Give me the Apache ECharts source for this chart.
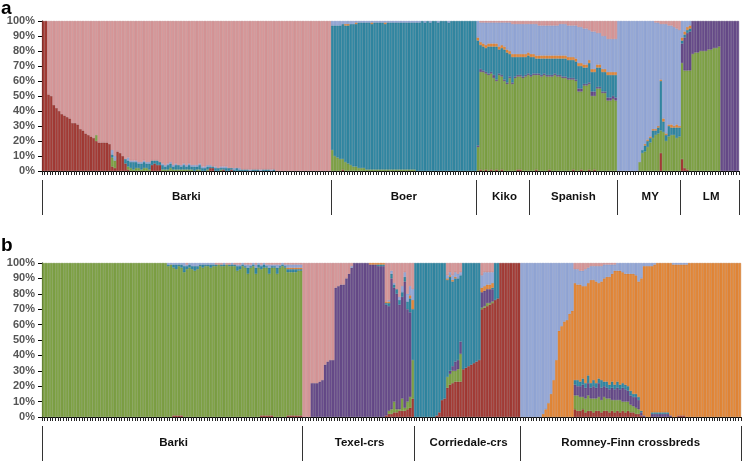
<!doctype html>
<html lang="en">
<head>
<meta charset="UTF-8">
<title>Admixture proportions</title>
<style>
  html, body { margin: 0; padding: 0; background: #fff; }
  #main { width: 748px; height: 465px; }
</style>
<script src="https://cdn.jsdelivr.net/npm/echarts@6/dist/echarts.min.js"></script>
</head>
<body>
<div id="main"></div>
<script>
// row = one animal: [dark red, green, purple, teal, orange, light blue, pink] (% , stacked bottom -> top)
var clusterColors = ['#A63D37', '#80A347', '#694D8C', '#3289A4', '#E68A3A', '#97AAD8', '#D9999A'];
var clusterEdges  = ['#862f2a', '#688a36', '#553d73', '#26718a', '#c4712c', '#7b8fc0', '#bd7e80'];

// ---- panel a ----
var aBarki = [
  [100,0,0,0,0,0,0],[100,0,0,0,0,0,0],[51,0,0,0,0,0,49],[50,0,0,0,0,0,50],[44,0,0,0,0,0,56],
  [42,0,0,0,0,0,58],[40,0,0,0,0,0,60],[38,0,0,0,0,0,62],[37,0,0,0,0,0,63],[36,0,0,0,0,0,64],
  [35,0,0,0,0,0,65],[32,0,0,0,0,0,68],[32,0,0,0,0,0,68],[31,0,0,0,0,0,69],[28,0,0,0,0,0,72],
  [27,0,0,0,0,0,73],[25,0,0,0,0,0,75],[24,0,0,0,0,0,76],[23,0,0,0,0,0,77],[22,0,0,0,0,0,78],
  [20,4,0,0,0,0,76],[19,0,0,0,0,0,81],[19,0,0,0,0,0,81],[19,0,0,0,0,0,81],[19,0,0,0,0,0,81],
  [18,0,0,0,0,0,82],[3,6,0,2,0,3,86],[2,5,0,0,0,3,90],[13,0,0,0,0,0,87],[12,0,0,0,0,0,88],
  [10,0,0,0,0,0,90],[5,0,0,3,0,0,92],[1,2,0,4,0,2,91],
  [0,2,0,4,0,1,93],[0,1,0,5,0,1,93],[0,2,0,4,0,1,93],[0,2,0,3,0,1,94],[0,1,0,4,0,1,94],
  [0,2,0,4,0,1,93],[0,2,0,3,0,1,94],[0,1,0,4,0,1,94],
  [4,0,0,3,0,0,93],[5,0,0,2,0,0,93],[4,0,0,3,0,0,93],[4,0,0,2,0,0,94],
  [0,1,0,3,0,1,95],[0,1,0,2,0,1,96],[0,1,0,3,0,1,95],[0,2,0,3,0,1,94],[0,1,0,2,0,1,96],
  [0,1,0,3,0,1,95],[0,1,0,3,0,0,96],[0,1,0,2,0,1,96],[0,1,0,3,0,1,95],[0,1,0,2,0,1,96],
  [0,1,0,3,0,1,95],[0,1,0,2,0,1,96],[0,0,0,3,0,1,96],[0,1,0,2,0,1,96],[0,1,0,3,0,1,95],
  [0,0,0,2,0,1,97],[0,0,0,2,0,1,97],[0,1,0,2,0,1,96],[2,0,0,1,0,1,96],[2,0,0,1,0,0,97],
  [0,0,0,2,0,1,97],[0,0,0,2,0,0,98],[0,1,0,1,0,1,97],[1,0,0,1,0,1,97],[0,0,0,2,0,1,97],
  [0,0,0,2,0,0,98],[1,0,0,1,0,0,98],[0,0,0,1,0,1,98],[0,0,0,2,0,0,98],[0,0,0,1,0,1,98],[0,0,0,1,0,0,99],
  [0,0,0,1,0,0,99],[0,0,0,1,0,0,99],[0,0,0,0,0,1,99],[0,0,0,1,0,0,99],[0,0,0,1,0,0,99],[0,0,0,1,0,0,99],
  [0,0,0,0,0,1,99],[0,0,0,1,0,0,99],[0,0,0,1,0,0,99],[0,0,0,1,0,0,99],[0,0,0,0,0,1,99],[0,0,0,1,0,0,99],
  [0,0,0,0,0,0,100],[0,0,0,0,0,0,100],[0,0,0,0,0,0,100],[0,0,0,0,0,0,100],[0,0,0,0,0,0,100],
  [0,0,0,0,0,0,100],[0,0,0,0,0,0,100],[0,0,0,0,0,0,100],[0,0,0,0,0,0,100],[0,0,0,0,0,0,100],
  [0,0,0,0,0,0,100],[0,0,0,0,0,0,100],[0,0,0,0,0,0,100],[0,0,0,0,0,0,100],[0,0,0,0,0,0,100],
  [0,0,0,0,0,0,100],[0,0,0,0,0,0,100],[0,0,0,0,0,0,100],[0,0,0,0,0,0,100],[0,0,0,0,0,0,100],
  [0,0,0,0,0,0,100]
];
var aBoer = [
  [0,14,0,83,0,3,0],[0,10,0,87,0,3,0],[0,9,0,88,0,3,0],[0,8,0,89,0,3,0],[1,7,0,90,0,2,0],
  [0,6,0,91,1,2,0],[0,5,0,92,1,2,0],[0,4,0,94,0,2,0],[0,3,0,95,0,2,0],[0,3,0,95,1,1,0],
  [0,2,0,97,0,1,0],[0,2,0,97,0,1,0],[0,2,0,97,0,1,0],
  [0,1,0,98,0,1,0],[0,1,0,98,0,1,0],[0,1,0,97,1,1,0],[0,1,0,98,0,1,0],[0,1,0,98,0,1,0],
  [0,1,0,98,0,1,0],[0,1,0,98,0,1,0],[0,1,0,97,1,1,0],[0,1,0,98,0,1,0],[0,1,0,98,0,1,0],
  [0,1,0,98,0,1,0],[0,1,0,98,0,1,0],[0,1,0,98,0,1,0],[0,1,0,98,0,1,0],[0,1,0,98,0,1,0],
  [0,1,0,98,0,1,0],[0,1,0,98,0,1,0],[0,1,0,98,0,1,0],[0,1,0,98,0,1,0],
  [0,0,0,99,0,1,0],[0,0,0,99,0,1,0],[0,0,0,100,0,0,0],[0,0,0,99,0,1,0],[0,0,0,100,0,0,0],
  [0,0,0,99,0,1,0],[0,0,0,100,0,0,0],[0,0,0,100,0,0,0],[0,0,0,99,0,1,0],[0,0,0,100,0,0,0],
  [0,0,0,100,0,0,0],[0,0,0,100,0,0,0],[0,0,0,99,0,1,0],[0,0,0,100,0,0,0],[0,0,0,100,0,0,0],
  [0,0,0,100,0,0,0],[0,0,0,100,0,0,0],[0,0,0,100,0,0,0],[0,0,0,100,0,0,0],[0,0,0,100,0,0,0],
  [0,0,0,100,0,0,0],[0,0,0,100,0,0,0],[0,0,0,100,0,0,0]
];
var aKiko = [
  [0,16,1,70,2,11,0],[1,65,2,16,2,13,1],[0,66,1,16,2,14,1],[1,64,1,16,2,15,1],[0,64,1,18,2,14,1],
  [1,64,1,17,2,14,1],[0,62,2,19,2,14,1],[1,59,1,22,2,14,1],[0,64,1,16,2,16,1],[1,62,1,18,2,15,1],
  [0,60,1,20,2,16,1],[0,58,1,20,2,18,1],[0,62,1,15,2,19,1],[0,58,1,17,2,20,2],[0,62,1,13,2,20,2],
  [1,62,1,12,2,20,2],[1,62,1,12,2,20,2],[0,62,1,13,2,20,2],[0,63,1,12,2,20,2],[0,64,1,12,2,19,2]
];
var aSpanish = [
  [0,63,1,12,2,20,2],[0,64,1,11,2,20,2],[1,63,1,10,2,21,2],[0,64,1,10,2,20,3],[0,63,1,11,2,20,3],
  [0,64,1,10,2,20,3],[0,63,1,11,2,20,3],[1,62,1,11,2,20,3],[0,63,1,11,2,20,3],[0,64,1,10,2,20,3],
  [0,63,1,11,2,20,3],[0,63,1,11,2,21,2],[0,62,1,12,2,21,2],[0,62,1,12,2,21,2],[0,61,1,12,2,21,3],
  [0,61,1,12,2,21,3],[1,60,1,12,2,21,3],[0,60,1,12,2,22,3],[0,53,2,15,2,24,4],[1,52,2,15,2,24,4],
  [0,57,1,11,2,24,5],[0,57,1,11,2,24,5],[1,57,1,13,2,20,6],[0,50,3,13,2,25,7],[1,49,3,13,2,25,7],
  [0,55,1,13,2,21,8],[0,55,1,13,2,21,8],[0,52,1,13,2,22,10],[0,52,1,13,2,22,10],[0,47,2,15,2,22,12],
  [0,47,2,15,2,22,12],[0,48,2,14,2,22,12],[0,47,2,15,2,22,12]
];
var aMY = [
  [0,0,0,0,0,100,0],[0,0,0,0,0,100,0],[0,0,0,0,0,100,0],[0,0,0,0,0,100,0],[0,0,0,0,0,100,0],
  [0,0,0,0,0,100,0],[0,0,0,0,0,100,0],[0,0,0,0,0,100,0],[0,6,0,0,0,94,0],[0,12,0,2,0,86,0],
  [0,13,0,4,1,82,0],[0,16,0,4,1,79,0],[0,19,0,3,1,77,0],[0,22,0,5,1,72,0],[0,24,0,3,1,71,1],
  [0,25,0,4,1,69,1],[12,15,0,33,1,37,2],[0,26,0,7,2,63,2],[0,20,0,4,1,73,2],[0,23,0,7,1,66,3],
  [0,24,0,5,2,66,3],[0,24,0,5,1,66,4],[0,22,0,7,2,64,5],[0,23,0,6,1,64,6]
];
var aLM = [
  [8,64,13,2,2,11,0],[2,65,22,2,2,7,0],[1,66,25,2,2,4,0],[0,67,26,2,2,3,0],[0,78,22,0,0,0,0],
  [0,79,21,0,0,0,0],[0,79,21,0,0,0,0],[0,80,20,0,0,0,0],[0,80,20,0,0,0,0],[0,80,20,0,0,0,0],
  [0,81,19,0,0,0,0],[0,81,19,0,0,0,0],[0,82,18,0,0,0,0],[0,82,18,0,0,0,0],[0,83,17,0,0,0,0],
  [0,0,100,0,0,0,0],[0,0,100,0,0,0,0],[0,0,100,0,0,0,0],[0,0,100,0,0,0,0],[0,0,100,0,0,0,0],
  [0,0,100,0,0,0,0],[0,0,100,0,0,0,0]
];
var namesA = ['Barki', 'Boer', 'Kiko', 'Spanish', 'MY', 'LM'];

// ---- panel b ----
var bBarki = [
  [0,100,0,0,0,0,0],[0,100,0,0,0,0,0],[0,100,0,0,0,0,0],[0,100,0,0,0,0,0],[0,100,0,0,0,0,0],
  [0,100,0,0,0,0,0],[0,100,0,0,0,0,0],[0,100,0,0,0,0,0],[0,100,0,0,0,0,0],[0,100,0,0,0,0,0],
  [0,100,0,0,0,0,0],[0,100,0,0,0,0,0],[0,100,0,0,0,0,0],[0,100,0,0,0,0,0],[0,100,0,0,0,0,0],
  [0,100,0,0,0,0,0],[0,100,0,0,0,0,0],[0,100,0,0,0,0,0],[0,100,0,0,0,0,0],[0,100,0,0,0,0,0],
  [0,100,0,0,0,0,0],[0,100,0,0,0,0,0],[0,100,0,0,0,0,0],[0,100,0,0,0,0,0],[0,100,0,0,0,0,0],
  [0,100,0,0,0,0,0],[0,100,0,0,0,0,0],[0,100,0,0,0,0,0],[0,100,0,0,0,0,0],[0,100,0,0,0,0,0],
  [0,100,0,0,0,0,0],[0,100,0,0,0,0,0],[0,100,0,0,0,0,0],[0,100,0,0,0,0,0],[0,100,0,0,0,0,0],
  [0,100,0,0,0,0,0],[0,100,0,0,0,0,0],[0,100,0,0,0,0,0],[0,100,0,0,0,0,0],[0,100,0,0,0,0,0],
  [0,100,0,0,0,0,0],[0,100,0,0,0,0,0],[0,100,0,0,0,0,0],[0,100,0,0,0,0,0],[0,100,0,0,0,0,0],
  [0,100,0,0,0,0,0],[0,100,0,0,0,0,0],
  [0,98,0,1,0,1,0],[0,99,0,0,0,1,0],[1,96,0,2,0,1,0],[1,95,0,3,0,1,0],[1,97,0,1,0,1,0],
  [1,96,0,2,0,1,0],[0,94,0,4,0,2,0],[0,96,0,2,0,1,1],[0,97,0,2,0,1,0],[0,96,0,2,0,2,0],
  [0,95,0,3,0,2,0],[0,96,0,2,0,2,0],
  [0,98,0,1,0,1,0],[0,97,0,2,0,1,0],[0,98,0,1,0,1,0],[0,98,0,1,0,1,0],[0,97,0,2,0,1,0],[0,98,0,1,0,1,0],
  [0,98,0,1,0,0,1],[0,99,0,0,0,0,1],[0,98,0,1,0,0,1],[0,98,0,1,0,1,0],[0,99,0,0,0,0,1],
  [0,98,0,1,0,0,1],[0,98,0,1,0,1,0],[0,98,0,1,0,0,1],
  [0,95,0,3,0,1,1],[0,96,0,2,0,1,1],[0,98,0,1,0,1,0],[0,97,0,1,0,1,1],[0,93,0,4,0,2,1],
  [0,97,0,1,0,1,1],[0,98,0,1,0,1,0],[0,93,0,4,0,2,1],[0,97,0,2,0,1,0],[1,95,0,2,0,1,1],
  [1,96,0,2,0,1,0],[1,96,0,1,0,1,1],[1,92,0,4,0,2,1],[1,96,0,1,0,1,1],[0,97,0,1,0,1,1],
  [0,93,0,4,0,2,1],[0,97,0,1,0,1,1],[0,98,0,1,0,1,0],[0,97,0,1,0,1,1],[1,93,0,2,1,2,1],
  [1,93,0,2,1,2,1],[1,93,0,2,1,2,1],[1,93,0,2,1,2,1],[1,94,0,1,1,2,1],[1,94,0,1,1,2,1]
];
var bTexel = [
  [0,0,0,0,0,0,100],[0,0,0,0,0,0,100],[0,0,0,0,0,0,100],[0,0,22,0,0,0,78],[0,0,22,0,0,0,78],
  [0,0,22,0,0,0,78],[0,0,23,0,0,0,77],[0,0,24,0,0,0,76],[0,0,34,0,0,0,66],[0,0,36,0,0,0,64],
  [0,0,37,0,0,0,63],[0,0,37,0,0,0,63],[0,0,84,0,0,0,16],[0,0,85,0,0,0,15],[0,0,86,0,0,0,14],
  [0,0,86,0,0,0,14],[0,0,90,0,0,0,10],[0,0,93,0,0,0,7],[0,0,97,0,0,1,2],[0,0,100,0,0,0,0],
  [0,0,100,0,0,0,0],[0,0,100,0,0,0,0],[0,0,100,0,0,0,0],[0,0,100,0,0,0,0],[0,0,100,0,0,0,0],
  [0,0,99,0,1,0,0],[0,0,99,0,1,0,0],[0,0,99,0,1,0,0],[0,0,98,1,1,0,0],[0,0,98,1,1,0,0],
  [0,0,98,1,1,0,0],[1,0,72,1,1,0,25],[2,2,68,2,1,1,24],[2,3,85,3,0,2,5],[3,7,74,2,0,1,13],
  [3,2,75,3,0,0,17],[4,1,68,3,0,2,22],[4,8,66,3,0,4,15],[4,2,82,3,0,3,6],[5,5,60,5,0,5,20],
  [6,7,55,9,2,6,15],[12,25,0,33,6,7,17]
];
var bCorriedale = [
  [0,0,0,100,0,0,0],[0,0,0,100,0,0,0],[0,0,0,100,0,0,0],[0,0,0,100,0,0,0],[0,0,0,100,0,0,0],
  [0,0,0,100,0,0,0],[0,0,0,100,0,0,0],[0,0,0,100,0,0,0],[1,0,0,99,0,0,0],[3,0,0,97,0,0,0],
  [11,0,0,89,0,0,0],[12,0,0,88,0,0,0],[19,7,0,63,1,2,8],[21,7,2,61,1,2,6],[22,8,3,55,1,3,8],
  [23,7,6,54,1,3,6],[23,8,6,53,0,3,7],[23,18,8,43,0,2,6],[31,0,0,69,0,0,0],[32,0,0,68,0,0,0],
  [33,0,0,67,0,0,0],[34,0,0,66,0,0,0],[35,0,0,65,0,0,0],[36,0,0,64,0,0,0],[37,0,0,63,0,0,0],
  [70,1,10,0,3,8,8],[71,1,10,0,3,9,6],[72,2,9,0,3,8,6],[73,1,9,0,3,8,6],[74,1,8,1,3,7,6],
  [76,0,0,24,0,0,0],[77,0,0,23,0,0,0],[100,0,0,0,0,0,0],[100,0,0,0,0,0,0],[100,0,0,0,0,0,0],
  [100,0,0,0,0,0,0],[100,0,0,0,0,0,0],[100,0,0,0,0,0,0],[100,0,0,0,0,0,0],[100,0,0,0,0,0,0]
];
var bRomney = [
  [0,0,0,0,0,100,0],[0,0,0,0,0,100,0],[0,0,0,0,0,100,0],[0,0,0,0,0,100,0],[0,0,0,0,0,100,0],
  [0,0,0,0,0,100,0],[0,0,0,0,0,100,0],[0,0,0,0,0,100,0],[0,0,0,0,2,98,0],[0,0,0,0,5,95,0],
  [0,0,0,0,9,91,0],[0,0,0,0,15,85,0],[0,0,0,0,24,76,0],[0,0,0,0,37,63,0],[0,0,0,0,56,44,0],
  [0,0,0,0,59,41,0],[0,0,0,0,62,38,0],[0,0,0,0,63,37,0],[0,0,0,0,67,33,0],[0,0,0,0,69,31,0],
  [5,9,7,3,63,9,4],[4,10,6,4,62,10,4],[4,9,7,3,63,9,5],[5,8,8,4,60,10,5],[3,9,7,3,63,11,4],
  [4,10,8,5,60,10,3],[4,8,7,3,67,9,2],[3,9,8,4,65,9,2],[4,8,7,3,66,10,2],[4,9,9,3,62,11,2],
  [3,8,8,5,64,10,2],[4,9,7,3,67,9,1],[4,8,7,4,68,8,1],[3,9,6,3,70,8,1],[4,7,8,4,70,6,1],
  [3,8,7,3,74,4,1],[4,7,8,4,72,5,0],[3,8,7,3,74,5,0],[4,6,9,3,72,6,0],[3,7,8,3,72,7,0],
  [4,6,7,3,73,7,0],[3,5,6,3,76,7,0],[3,4,6,2,78,7,0],[2,4,7,2,77,8,0],[2,3,6,2,75,12,0],
  [1,0,2,1,86,10,0],
  [0,0,1,0,97,2,0],[0,0,0,0,98,2,0],[0,0,0,0,98,2,0],[0,0,2,1,95,2,0],[0,0,2,1,96,1,0],
  [0,0,2,1,97,0,0],[0,0,2,1,97,0,0],[0,0,2,1,97,0,0],[0,0,2,1,97,0,0],[0,0,2,1,97,0,0],
  [0,0,1,0,99,0,0],[0,0,0,0,99,1,0],
  [0,0,0,0,99,1,0],[1,0,0,0,98,1,0],[1,0,0,0,98,1,0],[1,0,0,0,98,1,0],[0,0,0,0,99,1,0],
  [0,0,0,0,100,0,0],[0,0,0,0,100,0,0],[0,0,0,0,100,0,0],[0,0,0,0,100,0,0],[0,0,0,0,100,0,0],
  [0,0,0,0,100,0,0],[0,0,0,0,100,0,0],[0,0,0,0,100,0,0],[0,0,0,0,100,0,0],[0,0,0,0,100,0,0],
  [0,0,0,0,100,0,0],[0,0,0,0,100,0,0],[0,0,0,0,100,0,0],[0,0,0,0,100,0,0],[0,0,0,0,100,0,0],
  [0,0,0,0,100,0,0],[0,0,0,0,100,0,0],[0,0,0,0,100,0,0],[0,0,0,0,100,0,0],[0,0,0,0,100,0,0]
];
var namesB = ['Barki', 'Texel-crs', 'Corriedale-crs', 'Romney-Finn crossbreds'];

var FONT = 'Liberation Sans, Arial, sans-serif';

function buildPanel(groups, names, idx, option) {
    var rows = [];
    var starts = {};
    var mids = {};
    groups.forEach(function (g, k) {
        starts[rows.length] = true;
        mids[rows.length + Math.floor(g.length / 2)] = names[k];
        rows = rows.concat(g);
    });
    var cats = rows.map(function (r, i) { return String(i); });

    // bar axis (line only)
    option.xAxis.push({
        type: 'category', gridIndex: idx, data: cats,
        axisLine: {lineStyle: {color: '#000', width: 1}},
        axisTick: {show: false},
        axisLabel: {show: false}
    });
    // population axis: separators + names
    option.xAxis.push({
        type: 'category', gridIndex: idx, data: cats, position: 'bottom', offset: 9,
        axisLine: {show: false, onZero: false},
        axisTick: {
            show: true, length: 35, lineStyle: {color: '#333', width: 1},
            interval: function (i) { return !!starts[i]; }
        },
        axisLabel: {
            interval: function (i) { return mids[i] !== undefined; },
            formatter: function (v, i) { return mids[i] || ''; },
            margin: 11, fontSize: 11.5, fontWeight: 'bold', color: '#111', fontFamily: FONT
        }
    });
    // small tick under every animal
    option.xAxis.push({
        type: 'category', gridIndex: idx, data: cats, position: 'bottom', offset: 0,
        axisLine: {show: false, onZero: false},
        axisTick: {show: true, interval: function () { return true; }, length: 4, lineStyle: {color: '#222', width: 1}},
        axisLabel: {show: false}
    });
    option.yAxis.push({
        type: 'value', gridIndex: idx, min: 0, max: 100, interval: 10,
        axisLine: {show: true, lineStyle: {color: '#000'}},
        axisTick: {show: true, length: 4, lineStyle: {color: '#000'}},
        splitLine: {show: false},
        axisLabel: {formatter: '{value}%', fontSize: 11, fontWeight: 'bold', color: '#555', margin: 7, fontFamily: FONT}
    });
    for (var c = 0; c < clusterColors.length; c++) {
        option.series.push({
            type: 'bar', xAxisIndex: idx * 3, yAxisIndex: idx, stack: 'panel' + idx,
            barCategoryGap: '0%', silent: true,
            data: rows.map(function (r) { return r[c] ? r[c] : '-'; }),
            itemStyle: {color: clusterColors[c], borderColor: clusterEdges[c], borderWidth: 0.5}
        });
    }
}

var option = {
    animation: false,
    backgroundColor: '#fff',
    title: [
        {text: 'a', left: 1, top: -1, padding: 0, textStyle: {fontSize: 19, fontWeight: 'bold', color: '#000', fontFamily: FONT}},
        {text: 'b', left: 1, top: 236, padding: 0, textStyle: {fontSize: 19, fontWeight: 'bold', color: '#000', fontFamily: FONT}}
    ],
    grid: [
        {left: 42, top: 21, width: 697, height: 150},
        {left: 42, top: 263, width: 699, height: 154}
    ],
    xAxis: [],
    yAxis: [],
    series: []
};

buildPanel([aBarki, aBoer, aKiko, aSpanish, aMY, aLM], namesA, 0, option);
buildPanel([bBarki, bTexel, bCorriedale, bRomney], namesB, 1, option);

var chart = echarts.init(document.getElementById('main'), null, {renderer: 'canvas'});
chart.setOption(option);
</script>
</body>
</html>
